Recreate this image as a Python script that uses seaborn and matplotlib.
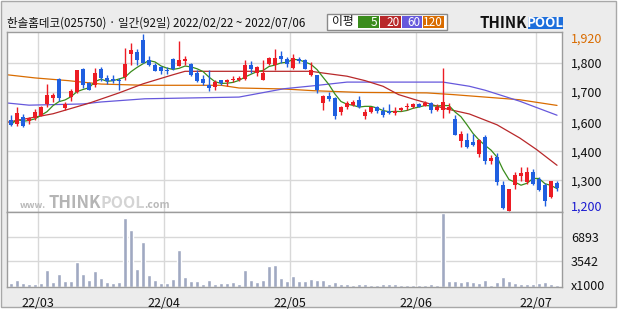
import numpy as np
import pandas as pd
import matplotlib
matplotlib.use("Agg")
import matplotlib.pyplot as plt
from matplotlib.patches import Rectangle
import seaborn as sns

# ---------------- data ----------------
title = "한솔홈데코(025750) · 일간(92일) 2022/02/22 ~ 2022/07/06"

opens = [1570, 1555, 1580, 1564, 1578, 1587, 1635, 1659, 1737, 1618, 1665, 1684, 1777, 1719, 1714, 1777,
         1741, 1737, 1734, 1743, 1839, 1847, 1894, 1813, 1795, 1784, 1772, 1818, 1791, 1811, 1799, 1761,
         1737, 1711, 1705, 1731, 1724, 1733, 1733, 1738, 1792, 1761, 1734, 1799, 1792, 1832, 1818, 1782,
         1818, 1813, 1754, 1752, 1639, 1666, 1659, 1602, 1623, 1632, 1652, 1587, 1601, 1623, 1608, 1605,
         1598, 1612, 1623, 1621, 1636, 1628, 1639, 1612, 1612, 1612, 1575, 1483, 1488, 1480, 1432, 1499,
         1401, 1419, 1305, 1200, 1303, 1343, 1317, 1358, 1329, 1305, 1256, 1314]
highs = [1589, 1621, 1594, 1580, 1614, 1628, 1716, 1680, 1740, 1643, 1696, 1775, 1780, 1724, 1782, 1786,
         1753, 1754, 1741, 1863, 1883, 1860, 1920, 1829, 1802, 1788, 1784, 1822, 1893, 1832, 1802, 1775,
         1752, 1772, 1734, 1734, 1737, 1750, 1750, 1815, 1809, 1788, 1814, 1826, 1860, 1849, 1825, 1839,
         1825, 1818, 1805, 1754, 1673, 1684, 1662, 1628, 1646, 1652, 1666, 1616, 1624, 1628, 1621, 1635,
         1621, 1624, 1638, 1639, 1640, 1646, 1642, 1636, 1782, 1639, 1589, 1523, 1515, 1513, 1494, 1507,
         1426, 1435, 1320, 1290, 1356, 1377, 1377, 1369, 1337, 1312, 1322, 1320]
lows = [1546, 1546, 1542, 1555, 1570, 1584, 1621, 1643, 1648, 1612, 1646, 1680, 1700, 1690, 1705, 1730,
        1716, 1720, 1690, 1731, 1795, 1792, 1800, 1788, 1768, 1758, 1757, 1775, 1788, 1792, 1750, 1723,
        1714, 1689, 1693, 1714, 1710, 1723, 1727, 1734, 1761, 1748, 1734, 1792, 1772, 1802, 1784, 1779,
        1802, 1777, 1750, 1680, 1612, 1648, 1575, 1591, 1616, 1625, 1618, 1575, 1598, 1598, 1580, 1594,
        1591, 1605, 1612, 1617, 1621, 1625, 1598, 1605, 1578, 1598, 1508, 1460, 1456, 1462, 1419, 1390,
        1390, 1305, 1208, 1200, 1290, 1320, 1309, 1306, 1279, 1221, 1252, 1282]
closes = [1550, 1597, 1546, 1578, 1601, 1622, 1670, 1670, 1659, 1635, 1689, 1773, 1714, 1693, 1761, 1741,
          1727, 1727, 1727, 1799, 1853, 1813, 1802, 1792, 1771, 1771, 1768, 1777, 1813, 1818, 1754, 1730,
          1720, 1700, 1724, 1719, 1734, 1737, 1741, 1792, 1777, 1786, 1761, 1822, 1822, 1820, 1799, 1822,
          1809, 1779, 1772, 1693, 1666, 1657, 1587, 1621, 1639, 1643, 1621, 1602, 1621, 1605, 1591, 1598,
          1608, 1618, 1627, 1635, 1624, 1639, 1612, 1624, 1643, 1623, 1510, 1513, 1460, 1468, 1489, 1401,
          1416, 1318, 1211, 1288, 1347, 1355, 1358, 1309, 1286, 1241, 1320, 1293]
volumes = [560, 940, 560, 420, 420, 560, 2380, 700, 1820, 840, 840, 3500, 1820, 980, 2240, 1260, 700, 560,
           700, 9520, 7840, 2520, 6300, 1680, 980, 560, 560, 1120, 5180, 1400, 840, 840, 420, 980, 420, 560,
           560, 700, 420, 2380, 980, 700, 980, 2940, 3080, 1260, 840, 1540, 840, 840, 1120, 980, 980, 420,
           700, 420, 420, 280, 420, 420, 280, 280, 420, 420, 420, 280, 280, 280, 280, 280, 420, 280, 10220,
           840, 840, 700, 840, 700, 560, 980, 280, 700, 1400, 840, 560, 420, 420, 420, 560, 700, 420, 280]

ma20_x = [-0.7, 7, 13, 18, 22, 27, 29, 45, 50, 52, 56, 59, 62, 64.6, 67.4, 69.3, 72, 76.4, 81, 84.8, 87.6, 91]
ma20_y = [1560, 1595, 1638, 1680, 1717, 1754, 1768, 1768, 1768, 1761, 1748, 1730, 1707, 1673, 1652, 1639,
          1618, 1594, 1550, 1496, 1449, 1385]
ma60_x = [-0.7, 3, 12, 15, 22.3, 38, 45.5, 50.4, 56, 72, 76.4, 79, 84.8, 91]
ma60_y = [1639, 1630, 1635, 1643, 1656, 1663, 1697, 1709, 1724, 1724, 1707, 1691, 1646, 1589]
ma120_x = [-0.7, 4, 9.5, 15, 22.3, 35, 38, 45.5, 50.4, 58, 69.3, 73.7, 79, 84.8, 91]
ma120_y = [1754, 1741, 1730, 1716, 1711, 1711, 1700, 1696, 1689, 1682, 1680, 1673, 1663, 1652, 1629]

month_pos = [4.5, 25.5, 46.5, 67.5, 87.5]
month_labels = ["22/03", "22/04", "22/05", "22/06", "22/07"]
price_grid = [1802, 1684, 1560, 1442, 1324]
price_grid_labels = ["1,800", "1,700", "1,600", "1,400", "1,300"]
price_max, price_min = 1920, 1200
price_max_label, price_min_label = "1,920", "1,200"
vol_ticks = [3542, 6893]
vol_tick_labels = ["3542", "6893"]
vol_unit = "x1000"
legend_labels = ["5", "20", "60", "120"]

# ---------------- style ----------------
sns.set_theme(style="white")
plt.rcParams["font.family"] = ["Noto Sans CJK KR", "DejaVu Sans"]

RED = "#ec1c24"
BLUE = "#1f5fe0"
C_MA5, C_MA20, C_MA60, C_MA120 = "#3a8c1c", "#b8282a", "#6658dc", "#d96c00"
GRID = "#d8d8d8"
SPINE = "#9c9c9c"

W, H = 620, 310
fig = plt.figure(figsize=(W / 100, H / 100), dpi=100)
fig.patch.set_facecolor("white")


def fx(x):
    return x / W


def fy(y):
    return 1 - y / H


fig.add_artist(Rectangle((fx(1), fy(307)), fx(615), 306 / H, transform=fig.transFigure,
                         facecolor="#ececec", edgecolor="#a8a8a8", lw=1, zorder=-5))

ax = fig.add_axes([fx(7), fy(212), fx(555), (212 - 31.7) / H])
axv = fig.add_axes([fx(7), fy(287), fx(555), 75 / H])

idx = np.arange(len(closes))
df = pd.DataFrame({"i": idx, "open": opens, "high": highs, "low": lows, "close": closes, "volume": volumes})
df["ma5"] = df["close"].rolling(5, min_periods=1).mean()
up = df["close"] >= df["open"]
colors = np.where(up, RED, BLUE)

# gridlines
for g in price_grid:
    ax.axhline(g, color=GRID, lw=1, zorder=0)
for m in month_pos:
    ax.axvline(m, color=GRID, lw=1, zorder=0)
    axv.axvline(m, color=GRID, lw=1, zorder=0)
for v in vol_ticks:
    axv.axhline(v, color=GRID, lw=1, zorder=0)

# moving averages
sns.lineplot(x=ma120_x, y=ma120_y, ax=ax, color=C_MA120, lw=0.9, zorder=2)
sns.lineplot(x=ma60_x, y=ma60_y, ax=ax, color=C_MA60, lw=0.9, zorder=2)
sns.lineplot(x=ma20_x, y=ma20_y, ax=ax, color=C_MA20, lw=0.9, zorder=2)
sns.lineplot(data=df, x="i", y="ma5", ax=ax, color=C_MA5, lw=0.9, zorder=2)

# candles
ax.vlines(df["i"], df["low"], df["high"], colors=colors, lw=1, zorder=3)
body_bottom = np.minimum(df["open"], df["close"])
body_h = np.maximum(np.abs(df["close"] - df["open"]), 4)
ax.bar(df["i"], body_h, bottom=body_bottom, width=0.82, color=colors, lw=0, zorder=4)

# volume
sns.barplot(data=df, x="i", y="volume", native_scale=True, color="#a0a9c2", width=0.82,
            saturation=1, ax=axv, zorder=2)

ax.set_xlim(-0.67, 91.83)
axv.set_xlim(-0.67, 91.83)
ax.set_ylim(1194.6, 1929.4)
axv.set_ylim(0, 10400)

# axis ticks
ax.yaxis.tick_right()
ax.set_yticks(price_grid)
ax.set_yticklabels(price_grid_labels)
ax.tick_params(axis="y", length=0, pad=6.5, labelsize=9, labelcolor="#111111")
ax.set_xticks([])
ax.set_xlabel("")
ax.set_ylabel("")
ax.annotate(price_max_label, xy=(1, price_max), xycoords=("axes fraction", "data"),
            xytext=(6.5, -3.5), textcoords="offset points", va="center", ha="left",
            fontsize=9, color="#d96c00", annotation_clip=False)
ax.annotate(price_min_label, xy=(1, price_min), xycoords=("axes fraction", "data"),
            xytext=(6.5, 2.2), textcoords="offset points", va="center", ha="left",
            fontsize=9, color="#1a1ad0", annotation_clip=False)

axv.yaxis.tick_right()
axv.set_yticks(vol_ticks)
axv.set_yticklabels(vol_tick_labels)
axv.tick_params(axis="y", length=0, pad=6.5, labelsize=9, labelcolor="#111111")
axv.annotate(vol_unit, xy=(1, 0), xycoords=("axes fraction", "data"),
             xytext=(6.5, 0.5), textcoords="offset points", va="center", ha="left",
             fontsize=9, color="#111111", annotation_clip=False)
axv.set_xticks(month_pos)
axv.set_xticklabels(month_labels)
axv.tick_params(axis="x", length=0, pad=7, labelsize=9, labelcolor="#111111")
axv.set_xlabel("")
axv.set_ylabel("")

for a in (ax, axv):
    a.set_facecolor("white")
    for s in a.spines.values():
        s.set_color(SPINE)
        s.set_linewidth(1)

# watermark
fig.text(fx(20), fy(205), "www.", fontsize=6.5, color="#b9b9b9",
         va="center", ha="left", fontweight="bold")
fig.text(fx(49), fy(203), "THINK", fontsize=12, color="#b5b5b5",
         va="center", ha="left", fontweight="bold")
fig.text(fx(100), fy(203), "POOL", fontsize=11.5, color="#d4d4d4",
         va="center", ha="left", fontweight="bold")
fig.text(fx(144), fy(205), ".com", fontsize=7.5, color="#b9b9b9",
         va="center", ha="left", fontweight="bold")

# title
fig.text(fx(7), fy(23), title, fontsize=8.3, color="#111111", va="center", ha="left")

# legend box
fig.add_artist(Rectangle((fx(327), fy(29.5)), fx(120), 15.5 / H, transform=fig.transFigure,
                         facecolor="white", edgecolor="#8a8a8a", lw=1, zorder=5))
fig.text(fx(332), fy(22), "이평", fontsize=8.5, color="#111111", va="center", ha="left", zorder=6)
boxes = [(357.7, 378.7, C_MA5), (380, 401, C_MA20), (402, 422, C_MA60), (423, 444, C_MA120)]
for (x0, x1, c), lab in zip(boxes, legend_labels):
    fig.add_artist(Rectangle((fx(x0), fy(28.3)), fx(x1 - x0), 12.8 / H, transform=fig.transFigure,
                             facecolor=c, edgecolor="none", zorder=6))
    fig.text(fx(x1 - 1.5), fy(22), lab, fontsize=8.5, color="white", va="center", ha="right", zorder=7)

# logo
fig.text(fx(479), fy(23), "THINK", fontsize=10.8, color="#111111", va="center", ha="left",
         fontweight="bold", zorder=6)
fig.add_artist(Rectangle((fx(528), fy(29.3)), fx(35), 12.6 / H, transform=fig.transFigure,
                         facecolor="#1e6fdc", edgecolor="none", zorder=6))
fig.text(fx(545.5), fy(23), "POOL", fontsize=9.5, color="white", va="center", ha="center",
         fontweight="bold", zorder=7)

fig.savefig("out.png", dpi=100, facecolor=fig.get_facecolor())
